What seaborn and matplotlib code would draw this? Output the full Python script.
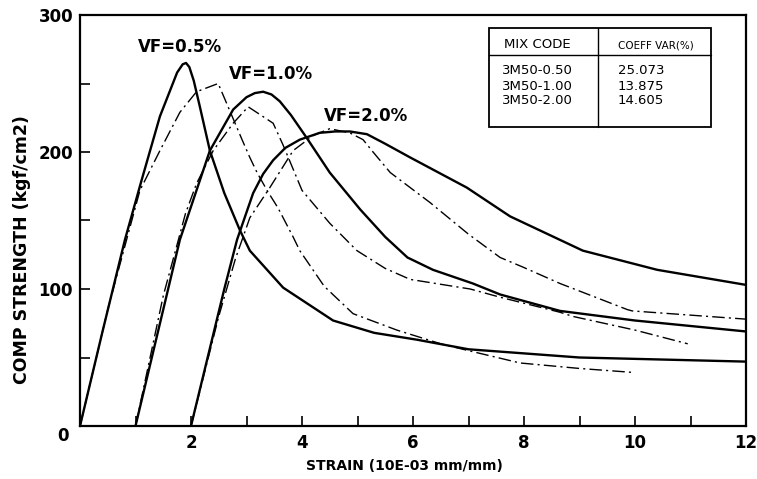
import matplotlib
matplotlib.use("Agg")
import matplotlib.pyplot as plt
import seaborn as sns
import pandas as pd
from matplotlib.patches import Rectangle

# ---- data (strain in 10E-03 mm/mm, stress in kgf/cm2) ----
vf05_theory_x = [0, 0.4, 0.81, 1.1, 1.44, 1.75, 1.85, 1.91, 1.97, 2.05, 2.16, 2.34, 2.6, 2.88, 3.06, 3.66, 4.56, 5.3, 6.07, 7.0, 9.0, 12.0]
vf05_theory_y = [0, 68, 136, 178, 226, 258, 264, 265, 262, 252, 233, 201, 170, 143, 128, 101, 77, 68, 63, 56, 50, 47]

vf05_test_x = [0, 0.5, 1.08, 1.44, 1.8, 2.1, 2.49, 2.7, 2.92, 3.06, 3.19, 3.37, 3.57, 3.84, 3.96, 4.4, 4.92, 5.71, 6.5, 7.0, 7.93, 9.0, 10.0]
vf05_test_y = [0, 85, 172, 201, 229, 244, 250, 230, 209, 196, 185, 172, 159, 138, 128, 102, 82, 70, 60, 55, 46, 42, 39]

vf10_theory_x = [1.0, 1.4, 1.8, 2.34, 2.76, 3.0, 3.15, 3.3, 3.45, 3.6, 3.8, 4.09, 4.5, 5.05, 5.5, 5.9, 6.36, 7.08, 7.57, 8.65, 10.0, 12.0]
vf10_theory_y = [0, 68, 136, 201, 231, 240, 243, 244, 242, 237, 227, 210, 185, 158, 138, 123, 114, 104, 96, 84, 77, 69]

vf10_test_x = [1.0, 1.5, 1.9, 2.1, 2.4, 2.76, 3.03, 3.48, 3.66, 4.0, 4.5, 4.99, 5.5, 5.95, 7.03, 7.57, 8.65, 8.88, 10.0, 10.95]
vf10_test_y = [0, 95, 155, 177, 201, 221, 233, 221, 205, 172, 148, 128, 115, 107, 100, 94, 83, 80, 70, 60]

vf20_theory_x = [2.0, 2.3, 2.6, 2.83, 3.12, 3.3, 3.48, 3.7, 3.96, 4.32, 4.6, 4.86, 5.17, 5.5, 5.95, 6.97, 7.75, 9.06, 10.4, 12.0]
vf20_theory_y = [0, 50, 100, 136, 170, 184, 194, 203, 209, 214, 215, 215, 213, 206, 196, 174, 153, 128, 114, 103]

vf20_test_x = [2.0, 2.5, 2.8, 3.06, 3.42, 3.84, 4.2, 4.5, 4.86, 5.1, 5.28, 5.59, 6.31, 7.0, 7.57, 7.98, 8.65, 9.86, 9.95, 12.0]
vf20_test_y = [0, 80, 122, 152, 174, 201, 212, 217, 214, 209, 200, 185, 163, 140, 123, 116, 104, 85, 84, 78]

curve_labels = ["VF=0.5%", "VF=1.0%", "VF=2.0%"]
label_pos_x = [1.8, 3.45, 5.15]
label_pos_y = [277, 257, 226]

table_header = ["MIX CODE", "COEFF VAR(%)"]
mix_codes = ["3M50-0.50", "3M50-1.00", "3M50-2.00"]
coeff_var = ["25.073", "13.875", "14.605"]

x_ticks_major = [0, 2, 4, 6, 8, 10, 12]
y_ticks_major = [0, 100, 200, 300]

# ---- plotting ----
sns.set_theme(style="white")
plt.rcParams['font.family'] = ['DejaVu Sans']
plt.rcParams['text.color'] = 'black'
plt.rcParams['axes.labelcolor'] = 'black'
plt.rcParams['xtick.color'] = 'black'
plt.rcParams['ytick.color'] = 'black'

fig = plt.figure(figsize=(7.57, 4.79), dpi=100)
ax = fig.add_axes([80/757, 1-426/479, 666/757, 411/479])

solid_kw = dict(color="black", linewidth=1.7)
dash_kw = dict(color="black", linewidth=1.0, linestyle=(0, (9, 3, 1.5, 3)))

for xs, ys in [(vf05_theory_x, vf05_theory_y), (vf10_theory_x, vf10_theory_y), (vf20_theory_x, vf20_theory_y)]:
    df = pd.DataFrame({"x": xs, "y": ys})
    sns.lineplot(data=df, x="x", y="y", ax=ax, sort=False, estimator=None, **solid_kw)
for xs, ys in [(vf05_test_x, vf05_test_y), (vf10_test_x, vf10_test_y), (vf20_test_x, vf20_test_y)]:
    df = pd.DataFrame({"x": xs, "y": ys})
    sns.lineplot(data=df, x="x", y="y", ax=ax, sort=False, estimator=None, **dash_kw)

ax.set_xlim(0, 12)
ax.set_ylim(0, 300)
ax.set_xlabel("")
ax.set_ylabel("")

for s in ax.spines.values():
    s.set_color("black")
    s.set_linewidth(1.6)

ax.set_xticks(x_ticks_major)
ax.set_xticks(list(range(0, 13)), minor=True)
ax.set_yticks(y_ticks_major)
ax.set_yticks(list(range(0, 301, 50)), minor=True)
ax.set_xticklabels([""] + [str(v) for v in x_ticks_major[1:]], fontsize=12, fontweight="bold")
ax.set_yticklabels([""] + [str(v) for v in y_ticks_major[1:]], fontsize=12, fontweight="bold")
ax.tick_params(axis="both", which="both", direction="in", length=7, width=1.2, color="black",
               bottom=True, left=True, top=False, right=False)
ax.tick_params(axis="x", which="major", pad=6)
ax.tick_params(axis="y", which="major", pad=5)

# shared zero label
fig.text(63/757, 1-436/479, "0", fontsize=12, fontweight="bold", ha="center", va="center")

# curve labels
for t, lx, ly in zip(curve_labels, label_pos_x, label_pos_y):
    ax.text(lx, ly, t, fontsize=12, fontweight="bold", ha="center", va="center")

# axis titles
fig.text(22/757, 1-250/479, "COMP STRENGTH (kgf/cm2)", rotation=90, fontsize=12.5,
         fontweight="bold", ha="center", va="center")
fig.text(404/757, 1-466/479, "STRAIN (10E-03 mm/mm)", fontsize=10,
         fontweight="bold", ha="center", va="center")

# table box
def px(xp):
    return (xp - 80) / 666
def py(yp):
    return (426 - yp) / 411

x0, x1, xd = px(489), px(711), px(598)
y0, y1, yh = py(127), py(28), py(55)
ax.add_patch(Rectangle((x0, y0), x1 - x0, y1 - y0, transform=ax.transAxes,
                       fill=True, facecolor="white", edgecolor="black", linewidth=1.3, zorder=5))
ax.plot([x0, x1], [yh, yh], transform=ax.transAxes, color="black", lw=1.0, zorder=6)
ax.plot([xd, xd], [y0, y1], transform=ax.transAxes, color="black", lw=1.0, zorder=6)
ax.text(px(537), py(45), table_header[0], transform=ax.transAxes, fontsize=9.5,
        ha="center", va="center", zorder=7)
ax.text(px(656), py(45), table_header[1], transform=ax.transAxes, fontsize=7.5,
        ha="center", va="center", zorder=7)
for i, (mc, cv) in enumerate(zip(mix_codes, coeff_var)):
    yy = py([70, 86, 101][i])
    ax.text(px(537), yy, mc, transform=ax.transAxes, fontsize=9.5, ha="center", va="center", zorder=7)
    ax.text(px(641), yy, cv, transform=ax.transAxes, fontsize=9.5, ha="center", va="center", zorder=7)

fig.savefig("out.png", dpi=100)
